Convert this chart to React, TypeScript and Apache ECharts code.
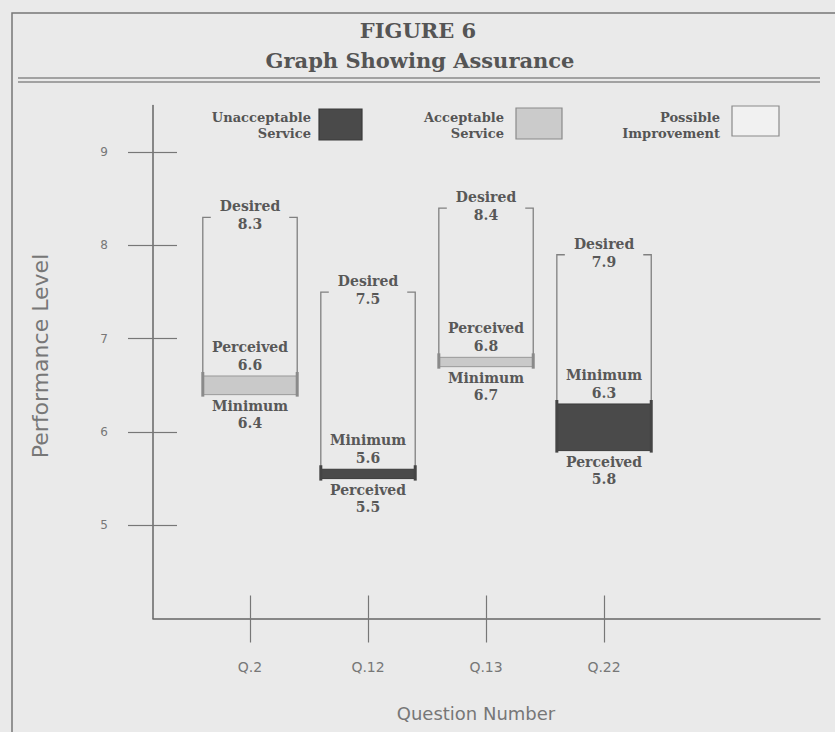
import React, { useEffect, useRef } from "react";
import * as echarts from "echarts";

// ---- data ----
const questions = ["Q.2", "Q.12", "Q.13", "Q.22"];
const desired = [8.3, 7.5, 8.4, 7.9];
const minimum = [6.4, 5.6, 6.7, 6.3];
const perceived = [6.6, 5.5, 6.8, 5.8];
const yTicks = [5, 6, 7, 8, 9];
const legendLabels = [
  ["Unacceptable", "Service"],
  ["Acceptable", "Service"],
  ["Possible", "Improvement"],
];
const titleLines = ["FIGURE 6", "Graph Showing Assurance"];
const yAxisName = "Performance Level";
const xAxisName = "Question Number";

const xPos = questions.map((_, i) => i + 1);
const boxData = questions.map((_, i) => [i + 1, desired[i], minimum[i], perceived[i]]);

const SERIF = "DejaVu Serif";
const SANS = "DejaVu Sans";
const X_MIN = 0.178;
const X_MAX = 5.83;

function renderItem(params: any, api: any) {
  const x = api.value(0);
  const d = api.value(1);
  const mn = api.value(2);
  const pc = api.value(3);
  const top = api.coord([x, d]);
  const cx = top[0];
  const yTop = top[1];
  const yMin = api.coord([x, mn])[1];
  const yPc = api.coord([x, pc])[1];
  const halfW = api.size([0.8, 0])[0] / 2;
  const yHigh = Math.min(yMin, yPc);
  const yLow = Math.max(yMin, yPc);
  const bad = pc < mn;
  const xl = cx - halfW;
  const xr = cx + halfW;
  const lineStyle = { stroke: "#808080", lineWidth: 1.3, fill: null };
  const txt = (t: string, y: number) => ({
    type: "text",
    x: cx,
    y,
    style: {
      text: t,
      fontFamily: SERIF,
      fontWeight: "bold",
      fontSize: 14,
      fill: "#585858",
      align: "center",
      verticalAlign: "middle",
    },
  });
  const upper = bad ? ["Minimum", mn.toFixed(1)] : ["Perceived", pc.toFixed(1)];
  const lower = bad ? ["Perceived", pc.toFixed(1)] : ["Minimum", mn.toFixed(1)];
  const postColor = bad ? "#444" : "#8a8a8a";
  return {
    type: "group",
    children: [
      { type: "polyline", shape: { points: [[xl + 8, yTop], [xl, yTop], [xl, yLow]] }, style: lineStyle },
      { type: "polyline", shape: { points: [[xr - 8, yTop], [xr, yTop], [xr, yLow]] }, style: lineStyle },
      {
        type: "rect",
        shape: { x: xl, y: yHigh, width: 2 * halfW, height: Math.max(yLow - yHigh, 2) },
        style: { fill: bad ? "#4a4a4a" : "#c9c9c9", stroke: bad ? "#3a3a3a" : "#999", lineWidth: 1 },
      },
      { type: "rect", shape: { x: xl - 1.5, y: yHigh - 4, width: 3, height: yLow - yHigh + 6 }, style: { fill: postColor } },
      { type: "rect", shape: { x: xr - 1.5, y: yHigh - 4, width: 3, height: yLow - yHigh + 6 }, style: { fill: postColor } },
      txt("Desired", yTop - 11),
      txt(d.toFixed(1), yTop + 7),
      txt(upper[0], yHigh - 29),
      txt(upper[1], yHigh - 11),
      txt(lower[0], yLow + 11),
      txt(lower[1], yLow + 28),
    ],
  };
}

export default function App() {
  const ref = useRef<HTMLDivElement>(null);
  useEffect(() => {
    if (!ref.current) return;
    const chart = echarts.init(ref.current, null, { renderer: "svg" });
    const legendBoxes = [
      { x: 319, y: 109, w: 43, h: 31, fill: "#4a4a4a", stroke: "#3a3a3a", textRight: 311 },
      { x: 516, y: 108, w: 46, h: 31, fill: "#cbcbcb", stroke: "#8a8a8a", textRight: 504 },
      { x: 732, y: 106, w: 47, h: 30, fill: "#f1f1f1", stroke: "#8a8a8a", textRight: 720 },
    ];
    const legendGraphics: any[] = [];
    legendBoxes.forEach((b, i) => {
      legendGraphics.push({
        type: "rect",
        shape: { x: b.x, y: b.y, width: b.w, height: b.h },
        style: { fill: b.fill, stroke: b.stroke, lineWidth: 1.2 },
      });
      legendLabels[i].forEach((t, j) => {
        legendGraphics.push({
          type: "text",
          x: b.textRight,
          y: 117 + j * 16,
          style: {
            text: t,
            fontFamily: SERIF,
            fontWeight: "bold",
            fontSize: 13,
            fill: "#555",
            align: "right",
            verticalAlign: "middle",
          },
        });
      });
    });

    const option: any = {
      animation: false,
      backgroundColor: "#eaeaea",
      grid: { left: 153, top: 105.5, right: 15, bottom: 113.5 },
      xAxis: [
        {
          type: "value",
          min: X_MIN,
          max: X_MAX,
          position: "bottom",
          axisLine: { show: true, lineStyle: { color: "#666", width: 1.5 } },
          axisTick: { show: true, customValues: xPos, inside: false, length: 24, lineStyle: { color: "#777", width: 1.2 } },
          axisLabel: {
            customValues: xPos,
            formatter: (v: number) => questions[Math.round(v) - 1] ?? "",
            margin: 41,
            color: "#777",
            fontFamily: SANS,
            fontSize: 14,
          },
          splitLine: { show: false },
        },
        {
          type: "value",
          min: X_MIN,
          max: X_MAX,
          position: "bottom",
          axisLine: { show: false },
          axisTick: { show: true, customValues: xPos, inside: true, length: 23, lineStyle: { color: "#777", width: 1.2 } },
          axisLabel: { show: false },
          splitLine: { show: false },
        },
      ],
      yAxis: [
        {
          type: "value",
          min: 4,
          max: 9.5,
          position: "left",
          axisLine: { show: true, lineStyle: { color: "#666", width: 1.5 } },
          axisTick: { show: true, customValues: yTicks, inside: false, length: 25, lineStyle: { color: "#777", width: 1.2 } },
          axisLabel: { customValues: yTicks, margin: 45, color: "#777", fontFamily: SANS, fontSize: 12 },
          splitLine: { show: false },
        },
        {
          type: "value",
          min: 4,
          max: 9.5,
          position: "left",
          axisLine: { show: false },
          axisTick: { show: true, customValues: yTicks, inside: true, length: 24, lineStyle: { color: "#777", width: 1.2 } },
          axisLabel: { show: false },
          splitLine: { show: false },
        },
      ],
      series: [
        {
          type: "custom",
          xAxisIndex: 0,
          yAxisIndex: 0,
          renderItem,
          data: boxData,
          encode: { x: 0, y: [1, 2, 3] },
          clip: false,
        },
      ],
      graphic: [
        {
          type: "rect",
          shape: { x: 12, y: 13, width: 900, height: 800 },
          style: { fill: null, stroke: "#777", lineWidth: 1.5 },
          silent: true,
        },
        { type: "line", shape: { x1: 18, y1: 78, x2: 820, y2: 78 }, style: { stroke: "#8a8a8a", lineWidth: 1.5 } },
        { type: "line", shape: { x1: 18, y1: 82, x2: 820, y2: 82 }, style: { stroke: "#8a8a8a", lineWidth: 1.5 } },
        {
          type: "text",
          x: 418,
          y: 30,
          style: { text: titleLines[0], fontFamily: SERIF, fontWeight: "bold", fontSize: 21, fill: "#555", align: "center", verticalAlign: "middle" },
        },
        {
          type: "text",
          x: 420,
          y: 60,
          style: { text: titleLines[1], fontFamily: SERIF, fontWeight: "bold", fontSize: 21, fill: "#555", align: "center", verticalAlign: "middle" },
        },
        ...legendGraphics,
        {
          type: "text",
          x: 40,
          y: 356,
          rotation: Math.PI / 2,
          style: { text: yAxisName, fontFamily: SANS, fontSize: 22, fill: "#777", align: "center", verticalAlign: "middle" },
        },
        {
          type: "text",
          x: 476,
          y: 713,
          style: { text: xAxisName, fontFamily: SANS, fontSize: 18, fill: "#777", align: "center", verticalAlign: "middle" },
        },
      ],
    };
    chart.setOption(option);
    return () => chart.dispose();
  }, []);
  return <div ref={ref} style={{ position: "fixed", left: 0, top: 0, width: 835, height: 732 }} />;
}
